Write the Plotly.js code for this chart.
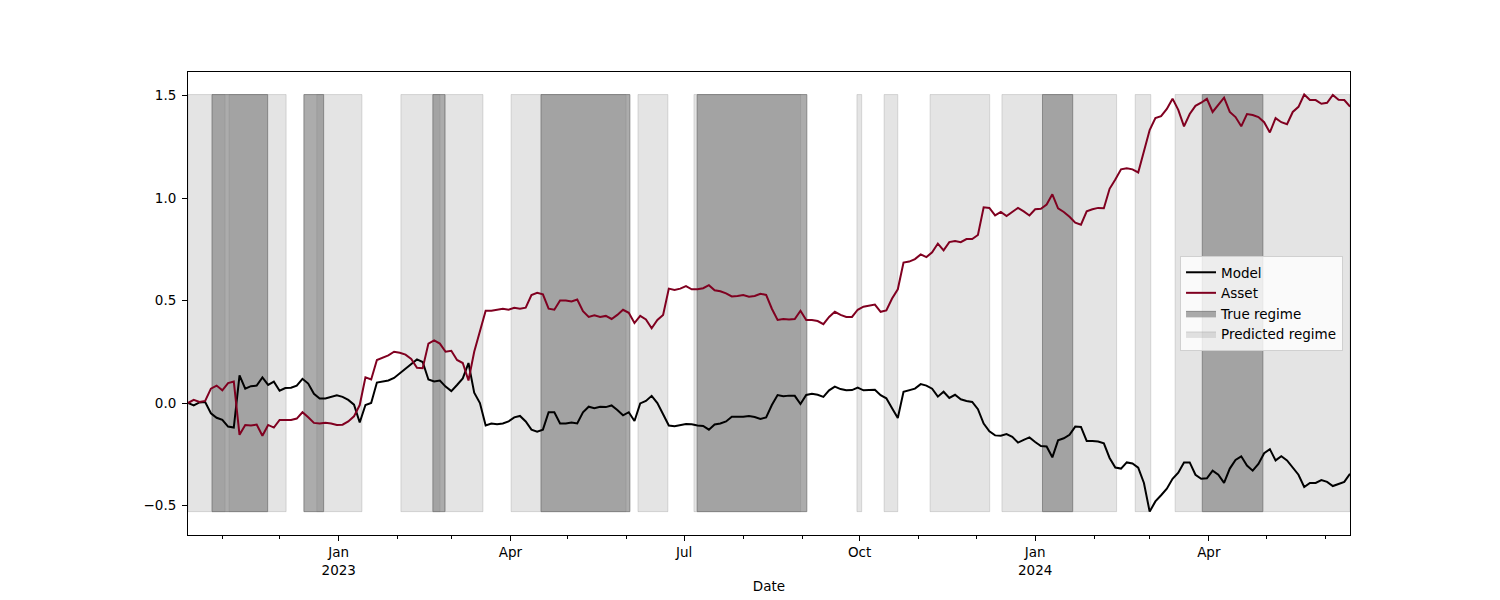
<!DOCTYPE html>
<html>
<head>
<meta charset="utf-8">
<script src="https://cdn.plot.ly/plotly-3.0.1.min.js"></script>
<style>html,body{margin:0;padding:0;background:#fff;}#chart{width:1500px;height:600px;}</style>
</head>
<body>
<div id="chart"></div>
<script>
// Dates (every 3 days)
const dates = [
'2022-10-14','2022-10-17','2022-10-20','2022-10-23','2022-10-26','2022-10-29',
'2022-11-01','2022-11-04','2022-11-07','2022-11-10','2022-11-13','2022-11-16','2022-11-19','2022-11-22','2022-11-25','2022-11-28',
'2022-12-01','2022-12-04','2022-12-07','2022-12-10','2022-12-13','2022-12-16','2022-12-19','2022-12-22','2022-12-25','2022-12-28','2022-12-31',
'2023-01-03','2023-01-06','2023-01-09','2023-01-12','2023-01-15','2023-01-18','2023-01-21','2023-01-24','2023-01-27','2023-01-30',
'2023-02-02','2023-02-05','2023-02-08','2023-02-11','2023-02-14','2023-02-17','2023-02-20','2023-02-23','2023-02-26',
'2023-03-01','2023-03-04','2023-03-07','2023-03-10','2023-03-13','2023-03-16','2023-03-19','2023-03-22','2023-03-25','2023-03-28','2023-03-31',
'2023-04-03','2023-04-06','2023-04-09','2023-04-12','2023-04-15','2023-04-18','2023-04-21','2023-04-24','2023-04-27','2023-04-30',
'2023-05-03','2023-05-06','2023-05-09','2023-05-12','2023-05-15','2023-05-18','2023-05-21','2023-05-24','2023-05-27','2023-05-30',
'2023-06-02','2023-06-05','2023-06-08','2023-06-11','2023-06-14','2023-06-17','2023-06-20','2023-06-23','2023-06-26','2023-06-29',
'2023-07-02','2023-07-05','2023-07-08','2023-07-11','2023-07-14','2023-07-17','2023-07-20','2023-07-23','2023-07-26','2023-07-29',
'2023-08-01','2023-08-04','2023-08-07','2023-08-10','2023-08-13','2023-08-16','2023-08-19','2023-08-22','2023-08-25','2023-08-28','2023-08-31',
'2023-09-03','2023-09-06','2023-09-09','2023-09-12','2023-09-15','2023-09-18','2023-09-21','2023-09-24','2023-09-27','2023-09-30',
'2023-10-03','2023-10-06','2023-10-09','2023-10-12','2023-10-15','2023-10-18','2023-10-21','2023-10-24','2023-10-27','2023-10-30',
'2023-11-02','2023-11-05','2023-11-08','2023-11-11','2023-11-14','2023-11-17','2023-11-20','2023-11-23','2023-11-26','2023-11-29',
'2023-12-02','2023-12-05','2023-12-08','2023-12-11','2023-12-14','2023-12-17','2023-12-20','2023-12-23','2023-12-26','2023-12-29',
'2024-01-01','2024-01-04','2024-01-07','2024-01-10','2024-01-13','2024-01-16','2024-01-19','2024-01-22','2024-01-25','2024-01-28','2024-01-31',
'2024-02-03','2024-02-06','2024-02-09','2024-02-12','2024-02-15','2024-02-18','2024-02-21','2024-02-24','2024-02-27',
'2024-03-01','2024-03-04','2024-03-07','2024-03-10','2024-03-13','2024-03-16','2024-03-19','2024-03-22','2024-03-25','2024-03-28','2024-03-31',
'2024-04-03','2024-04-06','2024-04-09','2024-04-12','2024-04-15','2024-04-18','2024-04-21','2024-04-24','2024-04-27','2024-04-30',
'2024-05-03','2024-05-06','2024-05-09','2024-05-12','2024-05-15','2024-05-18','2024-05-21','2024-05-24','2024-05-27','2024-05-30',
'2024-06-02','2024-06-05','2024-06-08','2024-06-11','2024-06-14'
];

const asset = [
0.0,0.015,0.005,0.01,0.07,0.085,0.062,0.097,0.105,-0.155,
-0.107,-0.11,-0.105,-0.16,-0.107,-0.12,-0.083,-0.083,-0.083,-0.076,
-0.045,-0.07,-0.097,-0.1,-0.096,-0.1,-0.107,-0.106,-0.09,-0.065,
-0.01,0.125,0.115,0.21,0.22,0.232,0.25,0.245,0.236,0.215,
0.172,0.17,0.29,0.305,0.29,0.25,0.255,0.21,0.195,0.11,
0.25,0.35,0.45,0.45,0.455,0.46,0.455,0.465,0.46,0.465,
0.527,0.538,0.53,0.46,0.455,0.5,0.5,0.495,0.505,0.448,
0.42,0.428,0.42,0.425,0.41,0.43,0.455,0.44,0.39,0.425,
0.408,0.365,0.405,0.43,0.558,0.552,0.558,0.57,0.555,0.555,
0.56,0.575,0.55,0.545,0.535,0.52,0.522,0.527,0.519,0.522,
0.533,0.527,0.46,0.405,0.41,0.407,0.41,0.45,0.405,0.405,
0.4,0.385,0.42,0.445,0.43,0.42,0.42,0.455,0.47,0.475,
0.48,0.445,0.452,0.51,0.555,0.685,0.69,0.702,0.725,0.712,
0.735,0.778,0.745,0.785,0.79,0.785,0.8,0.8,0.82,0.955,
0.952,0.915,0.932,0.912,0.93,0.952,0.935,0.915,0.945,0.948,
0.968,1.018,0.95,0.932,0.909,0.88,0.87,0.935,0.945,0.952,
0.95,1.045,1.09,1.14,1.145,1.14,1.125,1.23,1.332,1.39,
1.4,1.435,1.485,1.43,1.35,1.41,1.45,1.465,1.484,1.42,
1.455,1.49,1.42,1.395,1.35,1.41,1.405,1.395,1.37,1.32,
1.39,1.37,1.36,1.42,1.445,1.505,1.478,1.478,1.46,1.465,
1.503,1.48,1.478,1.446
];

const model = [
0.0,-0.012,0.003,0.005,-0.05,-0.072,-0.082,-0.115,-0.12,0.135,
0.07,0.082,0.085,0.125,0.088,0.104,0.06,0.073,0.075,0.085,
0.118,0.095,0.045,0.022,0.022,0.03,0.038,0.03,0.015,-0.008,
-0.095,-0.01,0.0,0.1,0.105,0.11,0.122,0.144,0.165,0.19,
0.213,0.2,0.115,0.105,0.11,0.08,0.058,0.088,0.12,0.195,
0.05,0.0,-0.11,-0.1,-0.103,-0.1,-0.09,-0.07,-0.063,-0.09,
-0.13,-0.14,-0.13,-0.045,-0.045,-0.1,-0.1,-0.095,-0.1,-0.045,
-0.018,-0.025,-0.018,-0.02,-0.012,-0.034,-0.06,-0.045,-0.088,-0.002,
0.01,0.035,0.0,-0.055,-0.11,-0.113,-0.108,-0.102,-0.104,-0.11,
-0.112,-0.13,-0.105,-0.1,-0.09,-0.067,-0.067,-0.067,-0.063,-0.068,
-0.078,-0.07,-0.01,0.039,0.033,0.036,0.035,-0.005,0.039,0.045,
0.04,0.03,0.062,0.08,0.068,0.062,0.063,0.075,0.062,0.062,
0.065,0.038,0.023,-0.025,-0.073,0.055,0.063,0.07,0.092,0.085,
0.07,0.031,0.055,0.025,0.04,0.018,0.01,0.005,-0.03,-0.1,
-0.138,-0.158,-0.16,-0.152,-0.165,-0.193,-0.18,-0.168,-0.19,-0.21,
-0.212,-0.265,-0.182,-0.172,-0.155,-0.115,-0.117,-0.185,-0.185,-0.188,
-0.197,-0.268,-0.315,-0.32,-0.29,-0.295,-0.315,-0.39,-0.53,-0.48,
-0.45,-0.418,-0.37,-0.34,-0.29,-0.29,-0.35,-0.37,-0.367,-0.33,
-0.35,-0.39,-0.32,-0.278,-0.26,-0.305,-0.33,-0.297,-0.245,-0.225,
-0.28,-0.26,-0.28,-0.315,-0.35,-0.41,-0.39,-0.39,-0.376,-0.385,
-0.405,-0.395,-0.385,-0.345
];

// Regime periods
const trueStart = ['2022-10-26 14:00','2022-12-13 18:00','2023-02-19 08:00','2023-04-17 00:00','2023-07-07 20:00','2024-01-04 20:00','2024-03-28 14:00'];
const trueEnd   = ['2022-11-24 18:00','2022-12-24 02:00','2023-02-25 16:00','2023-06-02 14:00','2023-09-03 08:00','2024-01-20 16:00','2024-04-29 08:00'];
const predStart = ['2022-10-14 00:00','2022-11-04 12:00','2022-12-20 12:00','2023-02-02 14:00','2023-02-25 16:00','2023-04-01 08:00','2023-06-06 20:00','2023-07-06 04:00','2023-09-29 14:00','2023-10-13 20:00','2023-11-06 22:00','2023-12-14 14:00','2024-02-22 10:00','2024-03-14 08:00'];
const predEnd   = ['2022-11-02 10:00','2022-12-04 10:00','2023-01-13 04:00','2023-02-23 02:00','2023-03-17 14:00','2023-05-31 14:00','2023-06-22 12:00','2023-08-31 02:00','2023-10-02 02:00','2023-10-21 00:00','2023-12-08 04:00','2024-02-12 16:00','2024-03-01 14:00','2024-06-14 00:00'];

const xTickVals = ['2023-01-01','2023-04-01','2023-07-01','2023-10-01','2024-01-01','2024-04-01'];
const xTickText = ['Jan<br>2023','Apr','Jul','Oct','Jan<br>2024','Apr'];
const yTickVals = [-0.5, 0.0, 0.5, 1.0, 1.5];

const lo = Math.min(...model, ...asset);
const hi = Math.max(...model, ...asset);

function rects(starts, ends) {
  const x = [], y = [];
  for (let i = 0; i < starts.length; i++) {
    x.push(starts[i], starts[i], ends[i], ends[i], starts[i], null);
    y.push(lo, hi, hi, lo, lo, null);
  }
  return {x, y};
}
const pr = rects(predStart, predEnd);
const tr = rects(trueStart, trueEnd);

const font = {family: 'DejaVu Sans, sans-serif', size: 13.5, color: '#000'};

const data = [
  {x: pr.x, y: pr.y, type: 'scatter', mode: 'lines', fill: 'toself', connectgaps: false,
   fillcolor: 'rgba(128,128,128,0.21)', line: {color: 'rgba(128,128,128,0.25)', width: 1},
   name: 'Predicted regime', legendrank: 4, hoverinfo: 'skip'},
  {x: tr.x, y: tr.y, type: 'scatter', mode: 'lines', fill: 'toself', connectgaps: false,
   fillcolor: 'rgba(128,128,128,0.65)', line: {color: 'rgba(110,110,110,0.7)', width: 1},
   name: 'True regime', legendrank: 3, hoverinfo: 'skip'},
  {x: dates, y: model, type: 'scatter', mode: 'lines', name: 'Model',
   line: {color: '#000000', width: 2}, legendrank: 1},
  {x: dates, y: asset, type: 'scatter', mode: 'lines', name: 'Asset',
   line: {color: '#800020', width: 2}, legendrank: 2}
];

const layout = {
  width: 1500, height: 600,
  margin: {l: 188, r: 150, t: 72, b: 65},
  paper_bgcolor: '#fff', plot_bgcolor: '#fff',
  font: font,
  showlegend: true,
  legend: {x: 0.994, xanchor: 'right', y: 0.5, yanchor: 'middle',
           bgcolor: 'rgba(255,255,255,0.8)', bordercolor: '#d0d0d0', borderwidth: 1,
           font: {family: 'DejaVu Sans, sans-serif', size: 13.5, color: '#000'}},
  xaxis: {
    type: 'date', range: ['2022-10-14', '2024-06-14'],
    tickmode: 'array', tickvals: xTickVals, ticktext: xTickText,
    ticks: 'outside', ticklen: 5, tickwidth: 1, tickcolor: '#000',
    showgrid: false, zeroline: false,
    showline: true, linecolor: '#000', linewidth: 1, mirror: true,
    minor: {dtick: 'M1', tick0: '2022-11-01', ticks: 'outside', ticklen: 3, tickwidth: 1, tickcolor: '#000', showgrid: false},
    title: {text: 'Date', font: font, standoff: 4},
    tickfont: font
  },
  yaxis: {
    range: [-0.644, 1.615],
    tickmode: 'array', tickvals: yTickVals, tickformat: '.1f',
    ticks: 'outside', ticklen: 5, tickwidth: 1, tickcolor: '#000',
    ticklabelstandoff: 3,
    showgrid: false, zeroline: false,
    showline: true, linecolor: '#000', linewidth: 1, mirror: true,
    tickfont: font
  }
};

Plotly.newPlot('chart', data, layout, {displayModeBar: false, staticPlot: true});
</script>
</body>
</html>
